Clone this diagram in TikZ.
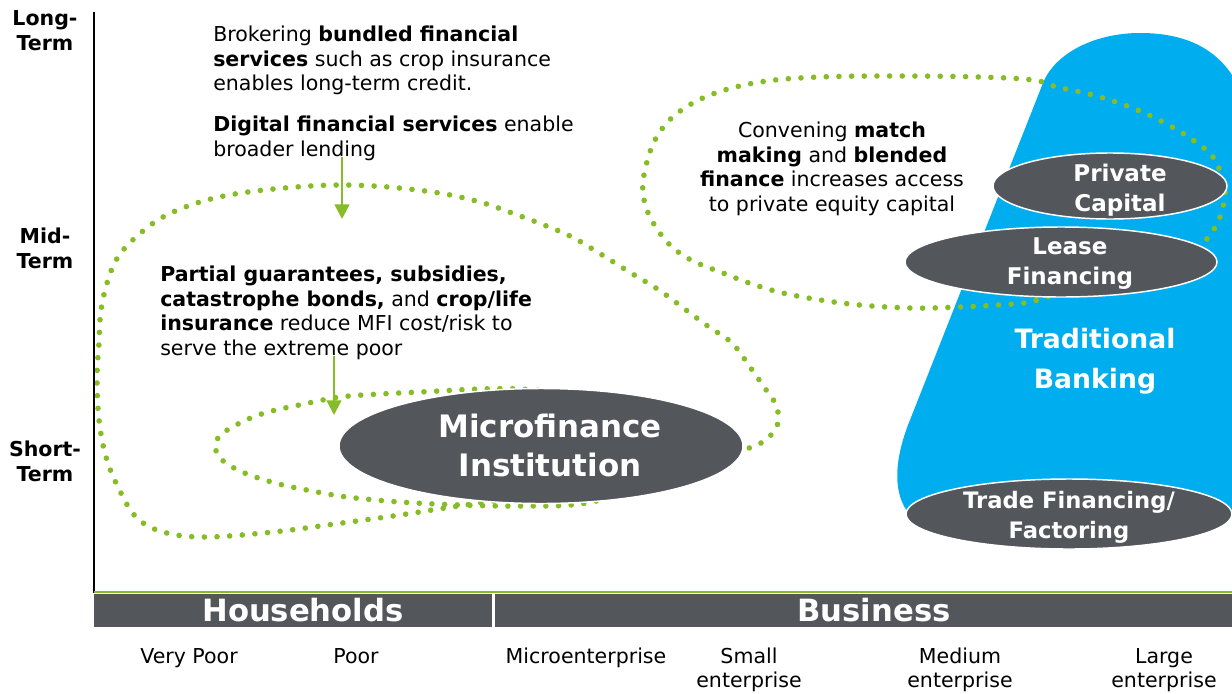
\documentclass[tikz,border=0pt]{standalone}
\usepackage{fontspec}
\setmainfont{DejaVu Sans}
\usetikzlibrary{shapes.geometric,arrows.meta}
\definecolor{dgreen}{HTML}{86BC25}
\definecolor{dgray}{HTML}{53565A}
\definecolor{dblue}{HTML}{00AEEF}
\tikzset{
  txt/.style={inner sep=0pt,font=\fontsize{15.4}{18.4}\selectfont},
  axislab/.style={inner sep=0pt,align=center,font=\bfseries\fontsize{15.4}{18.75}\selectfont},
  pill/.style={ellipse,fill=dgray,draw=white,line width=1.1pt,inner sep=0pt},
  pilltxt/.style={inner sep=0pt,align=center,text=white,font=\bfseries\fontsize{17.25}{22.5}\selectfont},
  dotloop/.style={dgreen,line width=4.2pt,line cap=round,dash pattern=on 0pt off 9.5pt},
  pointer/.style={dgreen,line width=1.9pt,-{Triangle[width=11pt,length=11pt]}},
  barlab/.style={inner sep=0pt,text=white,font=\bfseries\fontsize{23}{27}\selectfont},
  sizelab/.style={inner sep=0pt,align=center,anchor=north,font=\fontsize{15.4}{18}\selectfont}
}
\begin{document}
\begin{tikzpicture}[x=0.75pt,y=-0.75pt]
\useasboundingbox (0,0) rectangle (1232,693);
\fill[white] (0,0) rectangle (1232,693);

\fill[dblue] (1232,75) .. controls (1212,45) and (1180,33) .. (1140,33)
  .. controls (1095,33) and (1055,53) .. (1043,83) -- (910,420)
  .. controls (893,462) and (893,495) .. (910,515) -- (1232,515) -- cycle;
\node[pilltxt,font=\bfseries\fontsize{20}{30}\selectfont] (banking) at (1095,361) {Traditional\\Banking};

\draw[dotloop] plot[smooth,tension=0.6] coordinates {(725,455) (752,447) (768,438) (778,423) (776,405) (764,387)
  (750,367) (732,343) (709,327) (686,310) (659,290) (631,273) (599,253) (572,237) (544,225) (512,213)
  (480,202) (439,193) (388,187) (342,185) (296,187) (241,193) (200,202) (163,217) (136,237) (118,257)
  (108,280) (101,310) (99,343) (97,377) (99,420) (106,457) (118,487) (136,517) (163,532) (205,537)
  (273,532) (342,523) (400,515) (445,508) (500,500)};
\draw[dotloop] plot[smooth,tension=0.6] coordinates {(600,402) (560,393) (520,389) (480,389) (420,392)
  (380,394) (340,397) (304,404) (268,412) (244,421) (223,433) (216,443) (219,457) (240,471) (275,483)
  (312,491) (347,497) (400,502) (460,505) (520,506) (580,504) (640,490)};
\draw[dotloop] plot[smooth,tension=0.6] coordinates {(1060,292) (1030,302) (997,305) (960,307) (910,308)
  (850,304) (792,295) (755,285) (723,273) (691,260) (668,243) (650,217) (643,193) (645,170) (655,140)
  (675,115) (710,95) (760,82) (820,77) (900,76) (980,77) (1033,80) (1057,87) (1093,95) (1130,107)
  (1163,122) (1193,140) (1213,157) (1223,180) (1225,195) (1220,217) (1210,235) (1195,250) (1180,258)};

\node[pill,minimum width=303pt,minimum height=86.25pt] (mfi) at (541,446) {};
\node[pilltxt,font=\bfseries\fontsize{23.2}{29.25}\selectfont] (mfitxt) at (550,445) {Microfinance\\Institution};
\node[pill,minimum width=175.5pt,minimum height=49.5pt] (private) at (1110,186) {};
\node[pilltxt] (privatetxt) at (1120,190) {Private\\Capital};
\node[pill,minimum width=234pt,minimum height=52.5pt] (lease) at (1061,262) {};
\node[pilltxt] (leasetxt) at (1070,264) {Lease\\Financing};
\node[pill,minimum width=244.5pt,minimum height=52.5pt] (trade) at (1069,514) {};
\node[pilltxt,font=\bfseries\fontsize{17}{22.5}\selectfont] (tradetxt) at (1069,517) {Trade Financing/\\Factoring};

\node[txt,anchor=north west,align=left] (brokering) at (213,26) {Brokering \textbf{bundled financial}\\\textbf{services} such as crop insurance\\enables long-term credit.};
\node[txt,anchor=north west,align=left] (digital) at (213,116) {\textbf{Digital financial services} enable\\broader lending};
\node[txt,anchor=north west,align=left] (partial) at (160,266) {\textbf{Partial guarantees, subsidies,}\\\textbf{catastrophe bonds,} and \textbf{crop/life}\\\textbf{insurance} reduce MFI cost/risk to\\serve the extreme poor};
\node[txt,anchor=north,align=center] (convening) at (832,122) {Convening \textbf{match}\\\textbf{making} and \textbf{blended}\\\textbf{finance} increases access\\to private equity capital};

\coordinate (digitalend) at (342,219);
\coordinate (partialend) at (334,415);
\draw[pointer] (digital.south west -| digitalend) ++(0,-4) -- (digitalend);
\draw[pointer] (partial.south west -| partialend) ++(0,-4) -- (partialend);

\node[axislab] (longterm) at (45,31) {Long-\\Term};
\node[axislab] (midterm) at (45,248) {Mid-\\Term};
\node[axislab] (shortterm) at (45,461) {Short-\\Term};

\draw[black,line width=2.2pt] (94,12) -- (94,593);
\draw[dgreen,line width=1.5pt] (94,592) -- (1232,592);
\fill[dgray] (94,594) rectangle (492,627);
\fill[dgray] (495,594) rectangle (1232,627);
\node[barlab] (households) at (303,610) {Households};
\node[barlab] (business) at (874,610) {Business};

\node[sizelab] (verypoor) at (189,648) {Very Poor};
\node[sizelab] (poor) at (356,648) {Poor};
\node[sizelab] (micro) at (586,648) {Microenterprise};
\node[sizelab] (small) at (749,648) {Small\\enterprise};
\node[sizelab] (medium) at (960,648) {Medium\\enterprise};
\node[sizelab] (large) at (1164,648) {Large\\enterprise};
\end{tikzpicture}
\end{document}
